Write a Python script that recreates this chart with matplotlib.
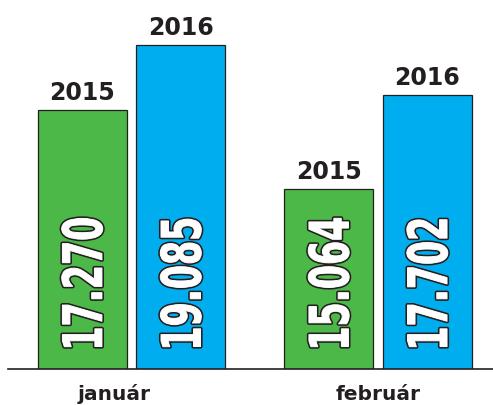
import matplotlib
matplotlib.use("Agg")
import matplotlib.pyplot as plt
from matplotlib.transforms import blended_transform_factory, Affine2D
from matplotlib.textpath import TextPath
from matplotlib.font_manager import FontProperties
from matplotlib.patches import PathPatch
import numpy as np

months = ["január", "február"]
years = ["2015", "2016"]
values_2015 = [17270, 15064]
values_2016 = [19085, 17702]

green = "#4cb848"
blue = "#00aeef"
dark = "#231f20"

fig = plt.figure(figsize=(4.93, 4.06), dpi=100)
ax = fig.add_axes([8/493, 36/406, 485/493, 360/406])

x = np.arange(len(months))
off = 0.2
w = 0.362
series = [(values_2015, green, -off), (values_2016, blue, off)]

ax.set_xlim(-0.501, 1.4665)
ax.set_ylim(10058, 20097)

trans = blended_transform_factory(ax.transData, ax.transAxes)
fp = FontProperties(family="DejaVu Sans", weight="bold")
ref = TextPath((0, 0), "0", size=1, prop=fp).get_extents()
sy = 41.0 / ref.height          # glyph thickness in pixels
sx = 0.64 * sy                  # condensed
ymid = (ref.y0 + ref.y1) / 2

for (vals, col, o), yr in zip(series, years):
    ax.bar(x + o, vals, width=w, color=col, edgecolor=dark, linewidth=0.9, zorder=2)
    for xi, v in zip(x + o, vals):
        ax.annotate(yr, (xi, v), xytext=(0, 8), textcoords="offset points",
                    ha="center", va="baseline", fontsize=17, fontweight="bold",
                    color=dark, family="DejaVu Sans")
        label = f"{v:,}".replace(",", ".")
        tp = TextPath((0, 0), label, size=1, prop=fp)
        ext = tp.get_extents()
        px, py = trans.transform((xi, 0.062))
        t = (Affine2D().translate(-ext.x0, -ymid).scale(sx, sy)
             .rotate_deg(90).translate(px, py))
        ax.add_artist(PathPatch(tp, facecolor=dark, edgecolor=dark, linewidth=3.0,
                                joinstyle="round", transform=t, zorder=3, clip_on=False))
        ax.add_artist(PathPatch(tp, facecolor="white", edgecolor="white", linewidth=0.7,
                                joinstyle="round", transform=t, zorder=3.1, clip_on=False))

label_x = [-0.07, 0.0]
for xi, lx, m in zip(x, label_x, months):
    ax.text(xi + lx, -30/360, m, transform=trans, ha="center", va="baseline",
            fontsize=14.5, fontweight="bold", color=dark, family="DejaVu Sans")

for s in ["top", "right", "left"]:
    ax.spines[s].set_visible(False)
ax.spines["bottom"].set_color(dark)
ax.spines["bottom"].set_linewidth(1.2)
ax.spines["bottom"].set_zorder(4)
ax.set_xticks([])
ax.set_yticks([])
ax.patch.set_alpha(0)

fig.savefig("out.png", dpi=100)
